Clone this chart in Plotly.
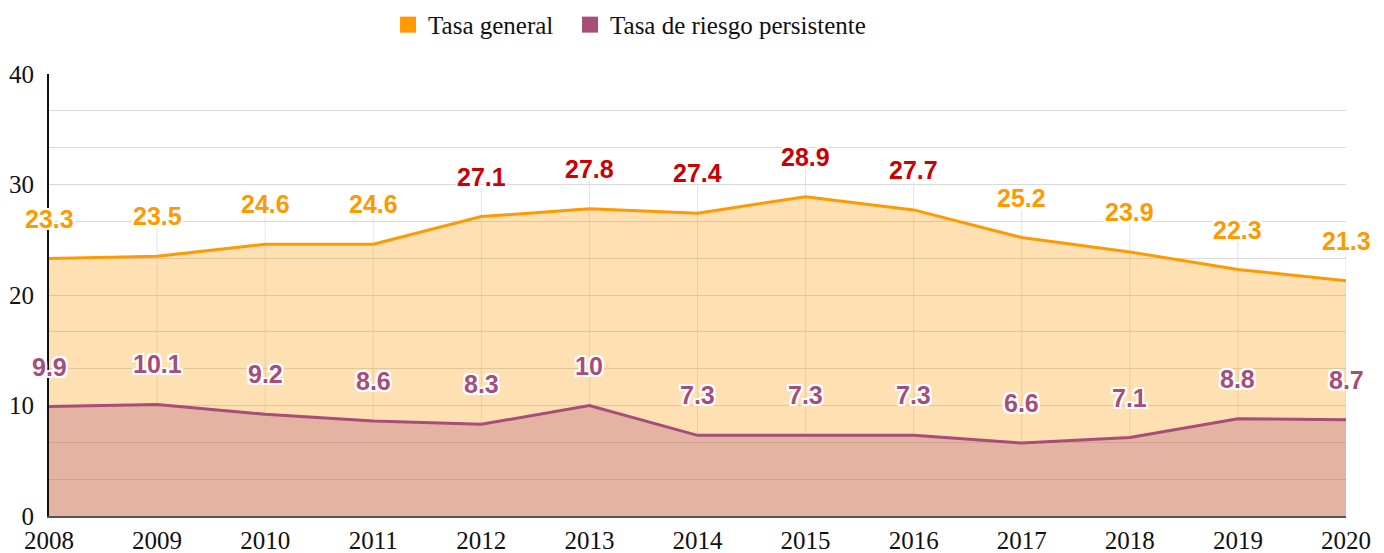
import plotly.graph_objects as go

# data
years = [2008, 2009, 2010, 2011, 2012, 2013, 2014, 2015, 2016, 2017, 2018, 2019, 2020]
tasa_general = [23.3, 23.5, 24.6, 24.6, 27.1, 27.8, 27.4, 28.9, 27.7, 25.2, 23.9, 22.3, 21.3]
tasa_persistente = [9.9, 10.1, 9.2, 8.6, 8.3, 10, 7.3, 7.3, 7.3, 6.6, 7.1, 8.8, 8.7]
highlight_years = [2012, 2013, 2014, 2015, 2016]
y_ticks = [0, 10, 20, 30, 40]

ORANGE = '#ff9900'
PURPLE = '#a64d79'
RED = '#cc0000'
SERIF = 'Liberation Serif'
SANS = 'Liberation Sans'
OUTLINE = ('1px 1px 0 #fff, -1px -1px 0 #fff, 1px -1px 0 #fff, -1px 1px 0 #fff, '
           '0 2px 0 #fff, 0 -2px 0 #fff, 2px 0 0 #fff, -2px 0 0 #fff, '
           '2px 2px 0 #fff, -2px -2px 0 #fff, 2px -2px 0 #fff, -2px 2px 0 #fff')

fig = go.Figure()

fig.add_trace(go.Scatter(
    x=years, y=tasa_general, mode='lines', fill='tozeroy',
    line=dict(color=ORANGE, width=3), fillcolor='rgba(255,153,0,0.3)',
    showlegend=False, name='Tasa general'
))
fig.add_trace(go.Scatter(
    x=years, y=tasa_persistente, mode='lines', fill='tozeroy',
    line=dict(color=PURPLE, width=3), fillcolor='rgba(166,77,121,0.3)',
    showlegend=False, name='Tasa de riesgo persistente'
))

# legend entries with square swatches, one legend box each
for name, color, leg in [('Tasa general', ORANGE, 'legend'),
                         ('Tasa de riesgo persistente', PURPLE, 'legend2')]:
    fig.add_trace(go.Scatter(
        x=[None], y=[None], mode='markers', name=name, legend=leg,
        marker=dict(symbol='square', size=18, color=color)
    ))

# leader lines from labels down to the series
for yr, g, p in zip(years, tasa_general, tasa_persistente):
    if yr == years[0]:
        continue
    fig.add_shape(type='line', x0=yr, x1=yr, y0=p, y1=g, xref='x', yref='y',
                  line=dict(color='#e3e3e3', width=1), layer='below')
    fig.add_shape(type='line', x0=yr, x1=yr, y0=0, y1=28, xref='x', yref='y',
                  ysizemode='pixel', yanchor=g,
                  line=dict(color='#e3e3e3', width=1), layer='below')

# data labels
for yr, g, p in zip(years, tasa_general, tasa_persistente):
    fig.add_annotation(
        x=yr, y=g, text=f'{g:g}', showarrow=False, yshift=40,
        font=dict(family=SANS, size=25, color=RED if yr in highlight_years else ORANGE,
                  weight='bold', shadow=OUTLINE)
    )
    fig.add_annotation(
        x=yr, y=p, text=f'{p:g}', showarrow=False, yshift=40,
        font=dict(family=SANS, size=25, color=PURPLE, weight='bold', shadow=OUTLINE)
    )

legend_style = dict(
    orientation='h', xanchor='left', yref='container', yanchor='middle', y=0.955,
    font=dict(family=SERIF, size=25, color='#111'), itemwidth=30
)

fig.update_layout(
    width=1384,
    height=553,
    template='plotly_white',
    plot_bgcolor='white',
    margin=dict(l=49, r=38, t=74, b=37),
    font=dict(family=SERIF, size=25, color='#111'),
    legend=dict(x=0.2614, **legend_style),
    legend2=dict(x=0.4017, **legend_style),
    xaxis=dict(
        range=[years[0], years[-1]], tickvals=years, showgrid=False,
        showline=True, linecolor='#555', linewidth=2, zeroline=False,
        ticks='', ticklabelstandoff=1, automargin=False
    ),
    yaxis=dict(
        range=[0, 40], tickvals=y_ticks, showgrid=True, gridcolor='#d9d9d9',
        showline=True, linecolor='#111', linewidth=2, zeroline=False,
        ticks='', ticklabelstandoff=8, automargin=False,
        minor=dict(dtick=10 / 3, tick0=0, showgrid=True, gridcolor='#d9d9d9')
    ),
)

fig.write_html("out.html", config={'displayModeBar': False},
               post_script="document.body.style.margin='0';document.body.style.overflow='hidden';")
